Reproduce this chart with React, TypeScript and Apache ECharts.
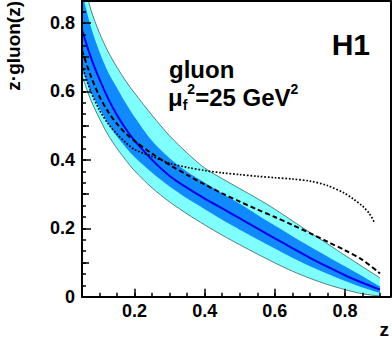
import React, { useEffect, useRef } from "react";
import * as echarts from "echarts";

// z grid shared by the fit bands and curves
const zGrid = [0.05, 0.075, 0.1, 0.125, 0.15, 0.175, 0.2, 0.25, 0.3, 0.35, 0.4, 0.45, 0.5, 0.55, 0.6, 0.65, 0.7, 0.75, 0.8, 0.85, 0.9];
// total uncertainty band (light cyan)
const outerUpper = [0.94, 0.84, 0.77, 0.715, 0.67, 0.63, 0.595, 0.53, 0.47, 0.42, 0.376, 0.345, 0.316, 0.287, 0.256, 0.222, 0.188, 0.155, 0.121, 0.088, 0.055];
const outerLower = [0.645, 0.575, 0.52, 0.472, 0.433, 0.399, 0.368, 0.318, 0.277, 0.242, 0.21, 0.18, 0.152, 0.125, 0.099, 0.075, 0.054, 0.036, 0.021, 0.009, 0.002];
// experimental uncertainty band (blue)
const innerUpper = [0.89, 0.79, 0.715, 0.655, 0.61, 0.565, 0.525, 0.455, 0.405, 0.365, 0.333, 0.302, 0.272, 0.24, 0.208, 0.177, 0.147, 0.118, 0.089, 0.06, 0.03];
const innerLower = [0.665, 0.6, 0.55, 0.505, 0.468, 0.436, 0.408, 0.362, 0.322, 0.287, 0.256, 0.225, 0.196, 0.168, 0.141, 0.114, 0.089, 0.067, 0.046, 0.027, 0.011];
// central fit
const centralFit = [0.78, 0.7, 0.635, 0.578, 0.53, 0.49, 0.456, 0.4, 0.353, 0.318, 0.287, 0.258, 0.229, 0.2, 0.171, 0.142, 0.114, 0.088, 0.063, 0.041, 0.021];
// dashed comparison curve
const dashedFit = [0.72, 0.645, 0.585, 0.54, 0.505, 0.477, 0.455, 0.418, 0.385, 0.356, 0.328, 0.302, 0.278, 0.255, 0.233, 0.21, 0.186, 0.161, 0.136, 0.108, 0.068];
// dotted comparison curve
const zDotted = [0.05, 0.075, 0.1, 0.125, 0.15, 0.175, 0.2, 0.25, 0.3, 0.35, 0.4, 0.45, 0.5, 0.55, 0.6, 0.65, 0.7, 0.75, 0.8, 0.825, 0.85, 0.87, 0.885];
const dottedFit = [0.675, 0.6, 0.545, 0.505, 0.475, 0.45, 0.43, 0.41, 0.39, 0.378, 0.369, 0.362, 0.357, 0.352, 0.348, 0.344, 0.338, 0.325, 0.302, 0.285, 0.265, 0.243, 0.215];

const xLabelValues = [0.2, 0.4, 0.6, 0.8];
const yLabelValues = [0, 0.2, 0.4, 0.6, 0.8];
const yMediumTicks = [0.1, 0.3, 0.5, 0.7];
const xMin = 0.05;
const xMax = 0.93;
const yMin = 0;
const yMax = 0.864;

const FONT = "'Liberation Sans', Arial, Helvetica, sans-serif";

const pairs = (xs: number[], ys: number[]) => xs.map((x, i) => [x, ys[i]]);
const fmt = (v: number) => (Math.abs(v) < 1e-9 ? "0" : v.toFixed(1));

export default function App() {
  const ref = useRef<HTMLDivElement>(null);
  useEffect(() => {
    document.body.style.margin = "0";
    if (!ref.current) return;
    const chart = echarts.init(ref.current, null, { renderer: "svg" });
    const labelStyle = {
      color: "#000",
      fontSize: 18,
      fontWeight: "bold" as const,
      fontFamily: FONT,
    };
    const tickLine = { color: "#000", width: 1.5 };
    const edge = { color: "#3c5c5c", width: 0.8 };
    const fillTo = (ys: number[], color: string, line: any, z: number) => ({
      type: "line",
      data: pairs(zGrid, ys),
      symbol: "none",
      smooth: 0.3,
      lineStyle: line,
      areaStyle: { color, opacity: 1, origin: "start" },
      z,
    });
    chart.setOption({
      animation: false,
      backgroundColor: "#fff",
      grid: { left: 82, right: 1.5, top: 1, bottom: 43.2, containLabel: false },
      xAxis: [
        {
          type: "value", min: xMin, max: xMax, interval: 0.05, position: "bottom", z: 10,
          axisLine: { show: true, onZero: false, lineStyle: { color: "#000", width: 2 } },
          axisTick: { show: true, inside: true, length: 4, lineStyle: tickLine },
          axisLabel: { show: true, customValues: xLabelValues, formatter: fmt, margin: 5, ...labelStyle },
          splitLine: { show: false },
        },
        {
          type: "value", min: xMin, max: xMax, position: "bottom", z: 10,
          axisLine: { show: false, onZero: false },
          axisTick: { show: true, inside: true, length: 8, customValues: xLabelValues, lineStyle: tickLine },
          axisLabel: { show: false },
          splitLine: { show: false },
        },
        {
          type: "value", min: xMin, max: xMax, position: "top", z: 10,
          axisLine: { show: true, onZero: false, lineStyle: { color: "#000", width: 2 } },
          axisTick: { show: false },
          axisLabel: { show: false },
          splitLine: { show: false },
        },
      ],
      yAxis: [
        {
          type: "value", min: yMin, max: yMax, interval: 1 / 30, position: "left", z: 10,
          axisLine: { show: true, onZero: false, lineStyle: { color: "#000", width: 2 } },
          axisTick: { show: true, inside: true, length: 4, lineStyle: tickLine },
          axisLabel: { show: true, customValues: yLabelValues, formatter: fmt, margin: 7, ...labelStyle },
          splitLine: { show: false },
        },
        {
          type: "value", min: yMin, max: yMax, position: "left", z: 10,
          axisLine: { show: false, onZero: false },
          axisTick: { show: true, inside: true, length: 7, customValues: yMediumTicks, lineStyle: tickLine },
          axisLabel: { show: false },
          splitLine: { show: false },
        },
        {
          type: "value", min: yMin, max: yMax, position: "left", z: 10,
          axisLine: { show: false, onZero: false },
          axisTick: { show: true, inside: true, length: 9, customValues: yLabelValues, lineStyle: tickLine },
          axisLabel: { show: false },
          splitLine: { show: false },
        },
        {
          type: "value", min: yMin, max: yMax, position: "right", z: 10,
          axisLine: { show: true, onZero: false, lineStyle: { color: "#000", width: 2 } },
          axisTick: { show: false },
          axisLabel: { show: false },
          splitLine: { show: false },
        },
      ],
      series: [
        // layered fills: cyan under outer upper, blue under inner upper,
        // cyan under inner lower, white under outer lower -> two nested bands
        fillTo(outerUpper, "#80ffff", edge, 2),
        fillTo(innerUpper, "#128aff", { opacity: 0, width: 0 }, 2),
        fillTo(innerLower, "#80ffff", { opacity: 0, width: 0 }, 2),
        fillTo(outerLower, "#ffffff", edge, 2),
        {
          type: "line", data: pairs(zGrid, centralFit), symbol: "none", smooth: 0.3,
          lineStyle: { color: "#0000ee", width: 2 }, z: 4,
        },
        {
          type: "line", data: pairs(zGrid, dashedFit), symbol: "none", smooth: 0.3,
          lineStyle: { color: "#000", width: 2, type: [5, 3] }, z: 5,
        },
        {
          type: "line", data: pairs(zDotted, dottedFit), symbol: "none", smooth: 0.3,
          lineStyle: { color: "#000", width: 1.7, type: [1.7, 1.8] }, z: 5,
        },
      ],
      graphic: [
        {
          type: "text", x: 13, y: 1, rotation: Math.PI / 2, z: 20,
          style: { text: "z·gluon(z)", align: "right", verticalAlign: "middle", fill: "#000", font: `bold 19px ${FONT}` },
        },
        {
          type: "text", x: 389, y: 329, z: 20,
          style: { text: "z", align: "right", verticalAlign: "middle", fill: "#000", font: `bold 19px ${FONT}` },
        },
        {
          type: "text", x: 370, y: 44, z: 20,
          style: { text: "H1", align: "right", verticalAlign: "middle", fill: "#000", font: `bold 30px ${FONT}` },
        },
        {
          type: "text", x: 169, y: 69, z: 20,
          style: { text: "gluon", align: "left", verticalAlign: "middle", fill: "#000", font: `bold 24px ${FONT}`, lineHeight: 22 },
        },
        {
          type: "text", x: 168, y: 97, z: 20,
          style: {
            text: "{m|μ}{sub|f}{sup|2}{m|=25 GeV}{sup|2}",
            align: "left",
            verticalAlign: "middle",
            fill: "#000",
            rich: {
              m: { fontSize: 24, fontWeight: "bold", fontFamily: FONT, lineHeight: 30, verticalAlign: "middle", fill: "#000" },
              sub: { fontSize: 14, fontWeight: "bold", fontFamily: FONT, lineHeight: 12, verticalAlign: "bottom", fill: "#000" },
              sup: { fontSize: 14, fontWeight: "bold", fontFamily: FONT, lineHeight: 12, verticalAlign: "top", fill: "#000" },
            },
          },
        },
      ],
    });
    return () => chart.dispose();
  }, []);
  return <div ref={ref} style={{ width: 392, height: 340 }} />;
}
